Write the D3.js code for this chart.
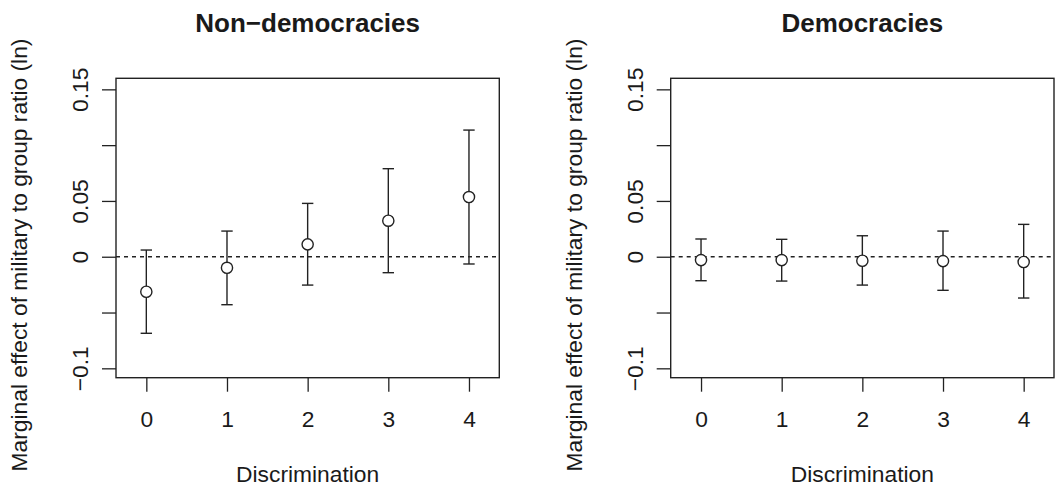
<!DOCTYPE html>
<html>
<head>
<meta charset="utf-8">
<script src="https://cdn.jsdelivr.net/npm/d3@7"></script>
<style>
  html, body { margin: 0; padding: 0; background: #fff; }
  svg { display: block; }
  text { font-family: "Liberation Sans", Arial, Helvetica, sans-serif; fill: #1a1a1a; }
</style>
</head>
<body>
<svg id="chart" width="1056" height="490"></svg>
<script>
// ---- data ----
const categories = [0, 1, 2, 3, 4];
const panelTitles = ["Non\u2212democracies", "Democracies"];
const nondemEst = [-0.0314, -0.0099, 0.0111, 0.0323, 0.0535];
const nondemLo  = [-0.0686, -0.0430, -0.0254, -0.0143, -0.0065];
const nondemHi  = [0.0060, 0.0230, 0.0478, 0.0789, 0.1135];
const demEst = [-0.0030, -0.0030, -0.0036, -0.0039, -0.0047];
const demLo  = [-0.0215, -0.0218, -0.0254, -0.0301, -0.0370];
const demHi  = [0.0159, 0.0156, 0.0188, 0.0230, 0.0290];
const yTicks = [-0.1, -0.05, 0, 0.05, 0.1, 0.15];
const yTickLabels = ["\u22120.1", "", "0", "0.05", "", "0.15"];
const xTickLabels = ["0", "1", "2", "3", "4"];
const xTitle = "Discrimination";
const yTitle = "Marginal effect of military to group ratio (ln)";

(function () {
const panels = [
  { title: panelTitles[0], est: nondemEst, lo: nondemLo, hi: nondemHi, left: 116 },
  { title: panelTitles[1], est: demEst, lo: demLo, hi: demHi, left: 670.7 }
];

const svg = d3.select("#chart");
const W = 383.3, plotTop = 78.3, plotBottom = 377.7;
const H = plotBottom - plotTop;
const ink = "#222";
const fs = "22.8px";

panels.forEach(p => {
  const x = d3.scaleLinear().domain([-0.376, 4.376]).range([0, W]);
  const y = d3.scaleLinear().domain([-0.1084, 0.1599]).range([H, 0]);
  const g = svg.append("g").attr("transform", `translate(${p.left},${plotTop})`);

  // title
  g.append("text")
    .attr("x", W / 2).attr("y", 31.5 - plotTop)
    .attr("text-anchor", "middle")
    .style("font-size", "26px").style("font-weight", "bold")
    .text(p.title);

  // y axis
  const ya = g.append("g").call(
    d3.axisLeft(y).tickValues(yTicks).tickSize(14)
      .tickFormat((d, i) => yTickLabels[i])
  );
  ya.select(".domain").remove();
  ya.selectAll(".tick line").attr("stroke", ink).attr("stroke-width", 1.3);
  ya.selectAll(".tick text")
    .attr("x", null).attr("dy", null)
    .attr("transform", "translate(-28,0) rotate(-90)")
    .attr("text-anchor", "middle")
    .attr("fill", "#1a1a1a")
    .style("font-size", fs)
    .style("font-family", '"Liberation Sans", Arial, sans-serif');

  // x axis
  const xa = g.append("g").attr("transform", `translate(0,${H})`).call(
    d3.axisBottom(x).tickValues(categories).tickSize(14)
      .tickFormat((d, i) => xTickLabels[i])
  );
  xa.select(".domain").remove();
  xa.selectAll(".tick line").attr("stroke", ink).attr("stroke-width", 1.3);
  xa.selectAll(".tick text")
    .attr("y", 49.5).attr("dy", null)
    .attr("fill", "#1a1a1a")
    .style("font-size", fs)
    .style("font-family", '"Liberation Sans", Arial, sans-serif');

  // axis titles
  g.append("text")
    .attr("x", W / 2).attr("y", 482 - plotTop)
    .attr("text-anchor", "middle")
    .style("font-size", fs)
    .text(xTitle);
  g.append("text")
    .attr("transform", `translate(-89,${255 - plotTop}) rotate(-90)`)
    .attr("text-anchor", "middle")
    .style("font-size", fs)
    .text(yTitle);

  // zero reference line
  g.append("line")
    .attr("x1", 0).attr("x2", W)
    .attr("y1", y(0)).attr("y2", y(0))
    .attr("stroke", ink).attr("stroke-width", 1.3)
    .attr("stroke-dasharray", "4,4");

  // error bars
  const pts = categories.map((c, i) => ({ c, est: p.est[i], lo: p.lo[i], hi: p.hi[i] }));
  const cap = 5.7;
  const eb = g.append("g").attr("stroke", ink).attr("stroke-width", 1.4).attr("fill", "none");
  eb.selectAll("line.v").data(pts).join("line").attr("class", "v")
    .attr("x1", d => x(d.c)).attr("x2", d => x(d.c))
    .attr("y1", d => y(d.lo)).attr("y2", d => y(d.hi));
  eb.selectAll("line.t").data(pts).join("line").attr("class", "t")
    .attr("x1", d => x(d.c) - cap).attr("x2", d => x(d.c) + cap)
    .attr("y1", d => y(d.hi)).attr("y2", d => y(d.hi));
  eb.selectAll("line.b").data(pts).join("line").attr("class", "b")
    .attr("x1", d => x(d.c) - cap).attr("x2", d => x(d.c) + cap)
    .attr("y1", d => y(d.lo)).attr("y2", d => y(d.lo));
  eb.selectAll("circle").data(pts).join("circle")
    .attr("cx", d => x(d.c)).attr("cy", d => y(d.est))
    .attr("r", 5.6).attr("fill", "#fff");

  // box
  g.append("rect")
    .attr("x", 0).attr("y", 0).attr("width", W).attr("height", H)
    .attr("fill", "none").attr("stroke", ink).attr("stroke-width", 1.4);
});
})();
</script>
</body>
</html>
